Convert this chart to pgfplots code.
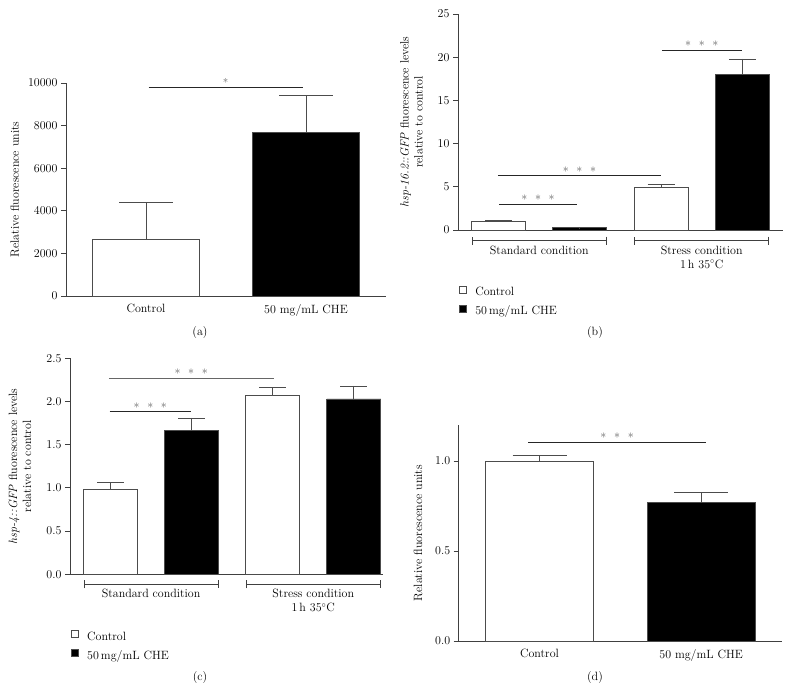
\documentclass[border=0pt]{standalone}
\usepackage{pgfplots}
\pgfplotsset{compat=1.18}
\usetikzlibrary{arrows.meta}

\pgfplotsset{
  sqlegend/.style={legend image code/.code={\draw[##1, line width=0.6pt] (0pt,0pt) rectangle (7pt,7pt);}},
  bars/.style={ybar, bar shift=0pt, draw=black!70, line width=0.8pt, sqlegend},
  ctrl/.style={bars, fill=white},
  che/.style={bars, fill=black},
  panel/.style={
    scale only axis, clip=false, enlargelimits=false, anchor=south west,
    axis x line=bottom, axis y line=left,
    axis line style={-, draw=black!75, line width=0.8pt},
    tick align=outside, major tick length=5pt,
    y tick style={draw=black!75, line width=0.8pt},
    x tick style={draw=none},
    tick label style={font=\fontsize{12}{14}\selectfont},
    label style={font=\fontsize{12}{14}\selectfont},
    ylabel style={anchor=center, align=center},
    error bars/y dir=plus, error bars/y explicit,
    error bars/error mark=|,
    error bars/error bar style={draw=black!70, line width=0.8pt},
    legend cell align=left,
    legend style={draw=none, fill=none, inner sep=0pt, row sep=6pt, column sep=8.5pt,
      nodes={inner sep=0pt, text height=8.5pt, text depth=3pt, font=\fontsize{12}{14}\selectfont}},
  },
}
\tikzset{
  sig/.style={black!85, line width=0.8pt},
  stars/.style={black!60, font=\fontsize{12.5}{14}\selectfont, yshift=6pt},
  brk/.style={black!75, line width=0.8pt, {Bar[width=8pt]}-{Bar[width=8pt]}},
  grp/.style={anchor=north, inner sep=0pt, yshift=-5pt, align=center, font=\fontsize{12}{14}\selectfont},
}
\newcommand{\three}{$\ast\hspace{5pt}\ast\hspace{5pt}\ast$}

\begin{document}
\begin{tikzpicture}[x=1pt,y=1pt]
\path[use as bounding box] (0,0) rectangle (791,692);

% ---------------- (a)
\begin{axis}[panel, at={(66pt,396pt)}, width=320pt, height=213pt,
  xmin=-0.5, xmax=1.5, ymin=0, ymax=10000, bar width=107pt,
  ytick={0,2000,4000,6000,8000,10000}, scaled y ticks=false,
  yticklabel style={/pgf/number format/1000 sep={}},
  xtick={0,1}, xticklabels={Control, 50 mg/mL CHE},
  ylabel={Relative fluorescence units},
  ylabel style={at={(axis description cs:-0.16,0.5)}},
  error bars/error mark options={draw=black!70, line width=0.8pt, mark size=27pt}]
\addplot[ctrl] coordinates {(0,2650) +- (0,1750)};
\addplot[che] coordinates {(1,7700) +- (0,1700)};
\draw[sig] (axis cs:0.016,9800) -- (axis cs:0.98,9800) node[midway, stars, font=\fontsize{11}{13}\selectfont] {$\ast$};
\end{axis}

% ---------------- (b)
\begin{axis}[panel, at={(458pt,462pt)}, width=325pt, height=216pt,
  xmin=-0.5, xmax=3.5, ymin=0, ymax=25, bar width=54pt,
  ytick={0,5,10,15,20,25}, xtick=\empty,
  ylabel={\textit{hsp-16.2::GFP} fluorescence levels\\relative to control},
  ylabel style={at={(axis description cs:-0.143,0.5)}},
  legend style={at={(axis description cs:0.003,-0.257)}, anchor=north west},
  error bars/error mark options={draw=black!70, line width=0.8pt, mark size=13.5pt}]
\addplot[ctrl] coordinates {(0,1.0) +- (0,0.06) (2,4.95) +- (0,0.27)};
\addplot[che] coordinates {(1,0.25) +- (0,0.03) (3,18.0) +- (0,1.8)};
\legend{Control, 50\,mg/mL CHE}
\draw[sig] (axis cs:0.01,3.0) -- (axis cs:0.96,3.0) node[midway, stars] {\three};
\draw[sig] (axis cs:-0.01,6.3) -- (axis cs:2.0,6.3) node[midway, stars] {\three};
\draw[sig] (axis cs:2.01,20.75) -- (axis cs:2.99,20.75) node[midway, stars, yshift=1pt] {\three};
\draw[brk] (axis cs:-0.33,-1.24) -- (axis cs:1.33,-1.24);
\draw[brk] (axis cs:1.67,-1.24) -- (axis cs:3.33,-1.24);
\node[grp] at (axis cs:0.5,-1.24) {Standard condition};
\node[grp] at (axis cs:2.5,-1.24) {Stress condition\\1\,h 35$^{\circ}$C};
\end{axis}

% ---------------- (c)
\begin{axis}[panel, at={(70pt,117.7pt)}, width=313pt, height=216pt,
  xmin=-0.5, xmax=3.36, ymin=0, ymax=2.5, bar width=54pt,
  ytick={0,0.5,1,1.5,2,2.5}, xtick=\empty,
  yticklabel style={/pgf/number format/.cd, fixed, fixed zerofill, precision=1},
  ylabel={\textit{hsp-4::GFP} fluorescence levels\\relative to control},
  ylabel style={at={(axis description cs:-0.16,0.5)}},
  legend style={at={(axis description cs:0.003,-0.258)}, anchor=north west},
  error bars/error mark options={draw=black!70, line width=0.8pt, mark size=13.5pt}]
\addplot[ctrl] coordinates {(0,0.98) +- (0,0.08) (2,2.07) +- (0,0.09)};
\addplot[che] coordinates {(1,1.67) +- (0,0.14) (3,2.03) +- (0,0.15)};
\legend{Control, 50\,mg/mL CHE}
\draw[sig] (axis cs:-0.01,1.88) -- (axis cs:0.99,1.88) node[midway, stars] {\three};
\draw[sig, black!60] (axis cs:-0.02,2.27) -- (axis cs:2.01,2.27) node[midway, stars] {\three};
\draw[brk] (axis cs:-0.33,-0.116) -- (axis cs:1.33,-0.116);
\draw[brk] (axis cs:1.67,-0.116) -- (axis cs:3.33,-0.116);
\node[grp] at (axis cs:0.5,-0.116) {Standard condition};
\node[grp] at (axis cs:2.5,-0.116) {Stress condition\\1\,h 35$^{\circ}$C};
\end{axis}

% ---------------- (d)
\begin{axis}[panel, at={(458.7pt,51pt)}, width=323.3pt, height=216pt,
  xmin=-0.5, xmax=1.5, ymin=0, ymax=1.2, bar width=108pt,
  ytick={0,0.5,1}, 
  yticklabel style={/pgf/number format/.cd, fixed, fixed zerofill, precision=1},
  xtick={0,1}, xticklabels={Control, 50 mg/mL CHE},
  ylabel={Relative fluorescence units},
  ylabel style={at={(axis description cs:-0.126,0.5)}},
  error bars/error mark options={draw=black!70, line width=0.8pt, mark size=27pt}]
\addplot[ctrl] coordinates {(0,1.0) +- (0,0.03)};
\addplot[che] coordinates {(1,0.77) +- (0,0.055)};
\draw[sig] (axis cs:-0.07,1.105) -- (axis cs:1.03,1.105) node[midway, stars] {\three};
\end{axis}

\node[font=\fontsize{12}{14}\selectfont] at (200,359) {(a)};
\node[font=\fontsize{12}{14}\selectfont] at (595,359) {(b)};
\node[font=\fontsize{12}{14}\selectfont] at (200,14) {(c)};
\node[font=\fontsize{12}{14}\selectfont] at (595,14) {(d)};
\end{tikzpicture}
\end{document}
